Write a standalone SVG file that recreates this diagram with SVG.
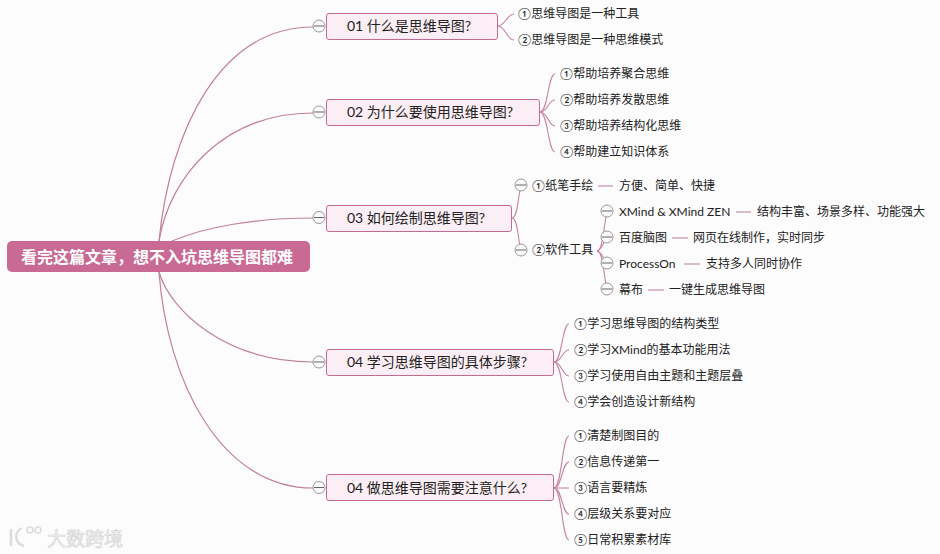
<svg xmlns="http://www.w3.org/2000/svg" width="940" height="554" viewBox="0 0 940 554">
<style>
text{font-family:"Lato","Noto Sans CJK SC",sans-serif;fill:#222;dominant-baseline:central}
.leaf{font-size:12px}
.topic{font-size:14px}
.box{fill:#fbeff5;stroke:#c56a92;stroke-width:1}
.main{fill:none;stroke:#c27f9d;stroke-width:1.2}
.thin{fill:none;stroke:#c684a2;stroke-width:1.1}
.col circle{fill:#fbfafb;stroke:#999;stroke-width:1}
.col path{stroke:#666;stroke-width:1;fill:none}
</style>
<defs>
<g id="minus" class="col"><circle r="6"/><path d="M-5 0H5"/></g>
</defs>
<rect width="940" height="554" fill="#fdfcfd"/>
<g id="connectors">
<path class="main" d="M159 241C170 130 220 27 313 27"/>
<path class="main" d="M159 241C170 175 225 113 313 113"/>
<path class="main" d="M172 241C205 227 255 218 313 218"/>
<path class="main" d="M159 272C170 310 225 362 313 362"/>
<path class="main" d="M159 272C167 380 220 488 313 488"/>
<path class="thin" d="M498 26C505 26 507 14 514 14"/>
<path class="thin" d="M498 26C505 26 507 40 514 40"/>
<path class="thin" d="M540 112C548 112 548 74 555 74"/>
<path class="thin" d="M540 112C548 112 548 100 555 100"/>
<path class="thin" d="M540 112C548 112 548 126 555 126"/>
<path class="thin" d="M540 112C548 112 548 152 555 152"/>
<path class="thin" d="M512 218C519 218 518 186 522 186"/>
<path class="thin" d="M512 218C519 218 518 250 522 250"/>
<path class="thin" d="M597 251C603 250 603 230 607 212"/>
<path class="thin" d="M597 251C602 250 604 240 607 238"/>
<path class="thin" d="M597 251C602 252 604 260 607 264"/>
<path class="thin" d="M597 251C603 252 603 270 607 290"/>
<path class="thin" d="M598 186H613"/>
<path class="thin" d="M736 212H751"/>
<path class="thin" d="M672 238H688"/>
<path class="thin" d="M684 264H700"/>
<path class="thin" d="M648 290H664"/>
<path class="thin" d="M554 362C562 362 562 324 569 324"/>
<path class="thin" d="M554 362C562 362 562 350 569 350"/>
<path class="thin" d="M554 362C562 362 562 376 569 376"/>
<path class="thin" d="M554 362C562 362 562 402 569 402"/>
<path class="thin" d="M554 488C562 488 562 436 569 436"/>
<path class="thin" d="M554 488C562 488 562 462 569 462"/>
<path class="thin" d="M554 488H569"/>
<path class="thin" d="M554 488C562 488 562 514 569 514"/>
<path class="thin" d="M554 488C562 488 562 540 569 540"/>
</g>
<g id="root"><rect x="7" y="241" width="303" height="31" rx="5" fill="#c96a94"/><text x="21" y="256" style="fill:#fff;font-size:16px;font-weight:700">看完这篇文章，想不入坑思维导图都难</text></g>
<g id="t1"><rect class="box" x="326.500" y="13.500" width="171" height="26" rx="2.500"/><text class="topic" x="347" y="25.500">01 什么是思维导图?</text><use href="#minus" x="319" y="26"/></g>
<g id="t2"><rect class="box" x="326.500" y="99.500" width="213" height="26" rx="2.500"/><text class="topic" x="347" y="111.500">02 为什么要使用思维导图?</text><use href="#minus" x="319" y="112"/></g>
<g id="t3"><rect class="box" x="326.500" y="205.500" width="185" height="26" rx="2.500"/><text class="topic" x="347" y="217">03 如何绘制思维导图?</text><use href="#minus" x="319" y="217.500"/></g>
<g id="t4"><rect class="box" x="326.500" y="349.500" width="227" height="26" rx="2.500"/><text class="topic" x="347" y="361">04 学习思维导图的具体步骤?</text><use href="#minus" x="319" y="362"/></g>
<g id="t5"><rect class="box" x="326.500" y="474.500" width="227" height="26" rx="2.500"/><text class="topic" x="347" y="487">04 做思维导图需要注意什么?</text><use href="#minus" x="319" y="487.500"/></g>
<g id="a1"><text class="leaf" x="518" y="13">①思维导图是一种工具</text></g>
<g id="a2"><text class="leaf" x="518" y="39">②思维导图是一种思维模式</text></g>
<g id="b1"><text class="leaf" x="560" y="73">①帮助培养聚合思维</text></g>
<g id="b2"><text class="leaf" x="560" y="99">②帮助培养发散思维</text></g>
<g id="b3"><text class="leaf" x="560" y="125">③帮助培养结构化思维</text></g>
<g id="b4"><text class="leaf" x="560" y="151">④帮助建立知识体系</text></g>
<g id="c1"><use href="#minus" x="521" y="185"/><text class="leaf" x="532" y="185">①纸笔手绘</text></g>
<g id="c1a"><text class="leaf" x="619" y="185">方便、简单、快捷</text></g>
<g id="c2"><use href="#minus" x="521" y="250"/><text class="leaf" x="532" y="249">②软件工具</text></g>
<g id="d1"><use href="#minus" x="607" y="211"/><text class="leaf" x="619" y="211">XMind &amp; XMind ZEN</text></g>
<g id="d1a"><text class="leaf" x="757" y="211">结构丰富、场景多样、功能强大</text></g>
<g id="d2"><use href="#minus" x="607" y="237"/><text class="leaf" x="619" y="237">百度脑图</text></g>
<g id="d2a"><text class="leaf" x="693" y="237">网页在线制作，实时同步</text></g>
<g id="d3"><use href="#minus" x="607" y="263"/><text class="leaf" x="619" y="263">ProcessOn</text></g>
<g id="d3a"><text class="leaf" x="706" y="263">支持多人同时协作</text></g>
<g id="d4"><use href="#minus" x="607" y="289"/><text class="leaf" x="619" y="289">幕布</text></g>
<g id="d4a"><text class="leaf" x="669" y="289">一键生成思维导图</text></g>
<g id="e1"><text class="leaf" x="574" y="323">①学习思维导图的结构类型</text></g>
<g id="e2"><text class="leaf" x="574" y="349">②学习XMind的基本功能用法</text></g>
<g id="e3"><text class="leaf" x="574" y="375">③学习使用自由主题和主题层叠</text></g>
<g id="e4"><text class="leaf" x="574" y="401">④学会创造设计新结构</text></g>
<g id="f1"><text class="leaf" x="574" y="435">①清楚制图目的</text></g>
<g id="f2"><text class="leaf" x="574" y="461">②信息传递第一</text></g>
<g id="f3"><text class="leaf" x="574" y="487">③语言要精炼</text></g>
<g id="f4"><text class="leaf" x="574" y="513">④层级关系要对应</text></g>
<g id="f5"><text class="leaf" x="574" y="539">⑤日常积累素材库</text></g>
<g id="watermark"><path d="M11 529V546M22 528C14 532 14 543 24 546" fill="none" stroke="#dcdcdc" stroke-width="2.500"/><circle cx="30" cy="530" r="3" fill="none" stroke="#dcdcdc" stroke-width="1.500"/><circle cx="38" cy="530" r="3" fill="none" stroke="#dcdcdc" stroke-width="1.500"/><text x="47" y="538" style="font-size:19px;fill:#efefef;stroke:#d4d4d4;stroke-width:.6">大数跨境</text></g>
</svg>
